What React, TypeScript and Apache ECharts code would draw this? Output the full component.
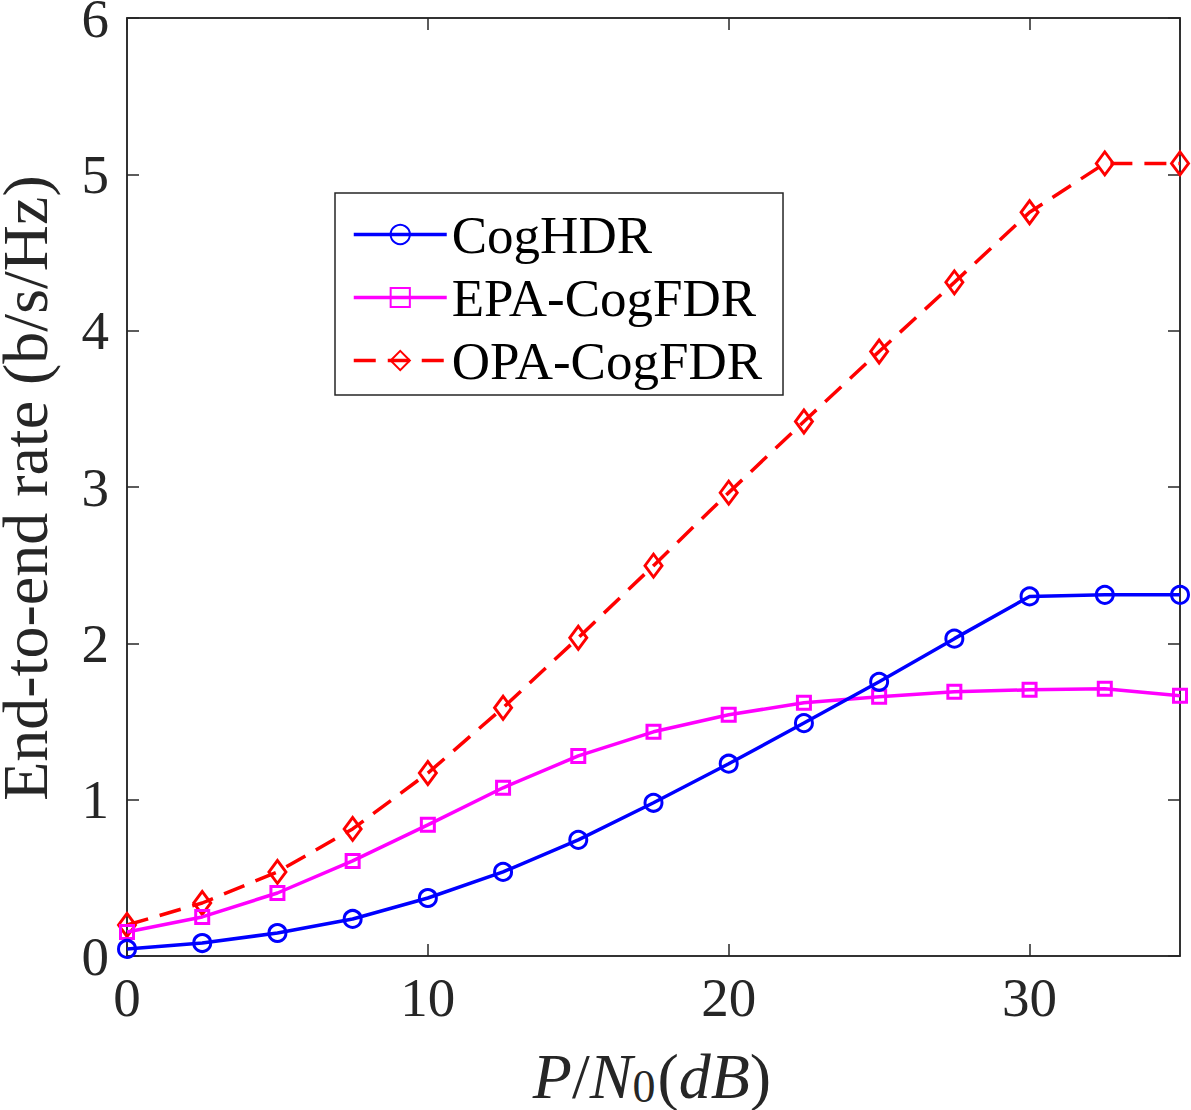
import React, { useEffect, useRef } from "react";
import * as echarts from "echarts";

const xValues = [0, 2.5, 5, 7.5, 10, 12.5, 15, 17.5, 20, 22.5, 25, 27.5, 30, 32.5, 35];
const cogHDR = [0.045, 0.083, 0.147, 0.237, 0.371, 0.538, 0.743, 0.98, 1.23, 1.49, 1.754, 2.03, 2.30, 2.31, 2.31];
const epaCogFDR = [0.154, 0.25, 0.403, 0.608, 0.839, 1.076, 1.28, 1.434, 1.543, 1.62, 1.658, 1.69, 1.703, 1.709, 1.665];
const opaCogFDR = [0.198, 0.339, 0.538, 0.813, 1.17, 1.588, 2.036, 2.497, 2.964, 3.419, 3.867, 4.309, 4.757, 5.07, 5.07];
const seriesNames = ["CogHDR", "EPA-CogFDR", "OPA-CogFDR"];
const yTicks = [0, 1, 2, 3, 4, 5, 6];

const FONT = "Liberation Serif";

function pairs(vals: number[]) {
  return xValues.map((x, i) => [x, vals[i]]);
}

const AXIS_COL = "#262626";

function makeAxis(pos: string, min: number, max: number, interval: number, labels: boolean, gridIndex = 0) {
  return {
    type: "value",
    gridIndex,
    position: pos,
    min,
    max,
    interval,
    show: true,
    axisLine: { show: true, onZero: false, lineStyle: { color: AXIS_COL, width: 1.5 } },
    axisTick: { show: true, inside: true, length: 12, lineStyle: { color: AXIS_COL, width: 1.5 } },
    splitLine: { show: false },
    axisLabel: labels
      ? {
          show: true,
          fontFamily: FONT,
          fontSize: 55,
          color: AXIS_COL,
          margin: pos === "bottom" ? 14 : 18,
          showMaxLabel: pos === "left",
          formatter: (v: number) => (pos === "bottom" && v === 35 ? "" : String(v)),
        }
      : { show: false },
  };
}

export default function App() {
  const ref = useRef<HTMLDivElement>(null);
  useEffect(() => {
    if (!ref.current) return;
    const chart = echarts.init(ref.current, null, { renderer: "svg" });
    chart.setOption({
      animation: false,
      backgroundColor: "#ffffff",
      grid: {
        left: 127,
        right: 11,
        top: 18,
        bottom: 154,
        containLabel: false,
        outerBoundsMode: "none",
        show: true,
        borderColor: AXIS_COL,
        borderWidth: 1.5,
        backgroundColor: "rgba(0,0,0,0)",
      },
      xAxis: [
        makeAxis("bottom", 0, 35, 10, true),
        makeAxis("top", 0, 35, 10, false),
      ],
      yAxis: [
        makeAxis("left", yTicks[0], yTicks[yTicks.length - 1], 1, true),
        makeAxis("right", yTicks[0], yTicks[yTicks.length - 1], 1, false),
      ],
      legend: {
        orient: "vertical",
        left: 335,
        top: 193,
        data: seriesNames,
        itemWidth: 93,
        itemHeight: 24,
        itemGap: 10,
        padding: [15, 21, 8, 17],
        backgroundColor: "#ffffff",
        borderColor: AXIS_COL,
        borderWidth: 1.5,
        borderRadius: 0,
        lineStyle: { width: 3.5 },
        textStyle: { fontFamily: FONT, fontSize: 53, color: "#000000" },
      },
      series: [
        {
          name: seriesNames[0],
          type: "line",
          data: pairs(cogHDR),
          symbol: "circle",
          symbolSize: 17,
          showAllSymbol: true,
          lineStyle: { color: "#0000ff", width: 3.5 },
          itemStyle: { color: "rgba(255,255,255,0)", borderColor: "#0000ff", borderWidth: 3 },
          z: 3,
        },
        {
          name: seriesNames[1],
          type: "line",
          data: pairs(epaCogFDR),
          symbol: "rect",
          symbolSize: 13,
          showAllSymbol: true,
          lineStyle: { color: "#ff00ff", width: 3.5 },
          itemStyle: { color: "rgba(255,255,255,0)", borderColor: "#ff00ff", borderWidth: 3 },
          z: 2,
        },
        {
          name: seriesNames[2],
          type: "line",
          data: pairs(opaCogFDR),
          symbol: "diamond",
          symbolSize: [17, 23],
          showAllSymbol: true,
          lineStyle: { color: "#ff0000", width: 3.5, type: [22, 12] },
          itemStyle: { color: "rgba(255,255,255,0)", borderColor: "#ff0000", borderWidth: 3 },
          z: 1,
        },
      ],
      graphic: [
        {
          type: "text",
          x: 25,
          y: 488,
          rotation: Math.PI / 2,
          style: {
            text: "End-to-end rate (b/s/Hz)",
            fontFamily: FONT,
            fontSize: 64,
            lineHeight: 48,
            fill: AXIS_COL,
            align: "center",
            verticalAlign: "middle",
          },
        },
        {
          type: "text",
          x: 652,
          y: 1076,
          style: {
            text: "{i|P}{n|/}{i|N}{s|0}{n|(}{i|dB}{n|)}",
            align: "center",
            verticalAlign: "middle",
            fill: AXIS_COL,
            rich: {
              i: { fontFamily: FONT, fontStyle: "italic", fontSize: 64, fill: AXIS_COL },
              n: { fontFamily: FONT, fontSize: 64, fill: AXIS_COL },
              s: { fontFamily: FONT, fontSize: 46, fill: AXIS_COL, padding: [20, 2, 0, 0] },
            },
          },
        },
      ],
    });
    return () => chart.dispose();
  }, []);
  return (
    <div
      ref={ref}
      style={{ position: "absolute", left: 0, top: 0, width: 1191, height: 1110 }}
    />
  );
}
